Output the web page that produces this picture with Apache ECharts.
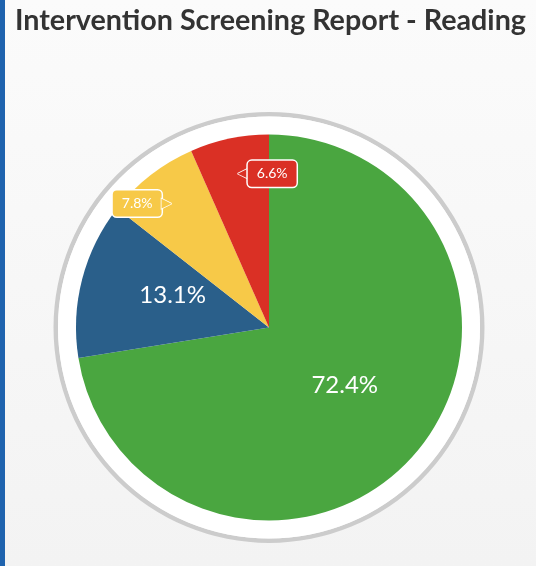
<!DOCTYPE html>
<html><head><meta charset="utf-8">
<script src="https://cdn.jsdelivr.net/npm/echarts@6/dist/echarts.min.js"></script>
<style>
html,body{margin:0;padding:0;overflow:hidden;}
#wrap{position:absolute;left:0;top:0;width:536px;height:566px;background:linear-gradient(#fbfbfb,#f3f3f3);}
#bar{position:absolute;left:0;top:0;width:5px;height:566px;background:#1f63ae;}
#chart{position:absolute;left:0;top:0;width:536px;height:566px;}
</style></head><body>
<div id="wrap"></div><div id="chart"></div><div id="bar"></div>
<script>
const titleText = 'Intervention Screening Report - Reading';
const categories = ['Low Risk', 'Some Risk', 'At Risk', 'High Risk'];
const values = [72.4, 13.1, 7.8, 6.6];
const colors = ['#4aa640', '#2a5f8a', '#f7c948', '#da3025'];
const bigLabelIdx = [0, 1];

const chart = echarts.init(document.getElementById('chart'), null, {renderer: 'canvas'});
const C = [269, 327.5];
const fmtPct = v => Number(v).toFixed(1) + '%';

const mainData = values.map((v, i) => ({
  name: categories[i], value: v,
  itemStyle: {color: colors[i]},
  label: {show: bigLabelIdx.includes(i)}
}));
const overlayData = values.map((v, i) => ({
  name: categories[i], value: v,
  itemStyle: {color: 'rgba(0,0,0,0)'},
  label: bigLabelIdx.includes(i) ? {show: false} : {
    show: true,
    formatter: p => (p.dataIndex === 3 ? '{arrL|◀}{box|' + fmtPct(p.value) + '}' : '{box|' + fmtPct(p.value) + '}{arrR|▶}'),
    rich: {
      box: {backgroundColor: colors[i], borderColor: '#ffffff', borderWidth: 1.5, borderRadius: 4,
            color: '#ffffff', fontSize: 14, fontFamily: 'Lato', lineHeight: 14, padding: [6, 9, 6, 9]},
      arrL: {color: colors[i], fontSize: 13, fontFamily: 'DejaVu Sans', textBorderColor: '#ffffff', textBorderWidth: 1.5},
      arrR: {color: colors[i], fontSize: 13, fontFamily: 'DejaVu Sans', textBorderColor: '#ffffff', textBorderWidth: 1.5}
    }
  }
}));

chart.setOption({
  animation: false,
  backgroundColor: 'transparent',
  title: {
    text: titleText, left: 10, top: 1,
    textStyle: {fontFamily: 'Lato', fontWeight: 'bold', fontSize: 28.7, color: '#333333'}
  },
  series: [
    {
      type: 'pie', silent: true, center: C, radius: [211, 215.5], z: 1,
      label: {show: false}, labelLine: {show: false},
      itemStyle: {color: '#cccccc'}, data: [{value: 1, name: 'ring'}]
    },
    {
      type: 'pie', silent: true, center: C, radius: [0, 211], z: 1,
      label: {show: false}, labelLine: {show: false},
      itemStyle: {color: '#ffffff'}, data: [{value: 1, name: 'disk'}]
    },
    {
      type: 'pie', center: C, radius: [0, 193], startAngle: 90, clockwise: true, z: 2,
      avoidLabelOverlap: false, silent: true,
      itemStyle: {borderWidth: 0},
      label: {position: 'inside', formatter: p => fmtPct(p.value), color: '#ffffff',
              fontSize: 24, fontFamily: 'Lato', fontWeight: 'normal'},
      labelLine: {show: false},
      labelLayout: p => ({dy: -7}),
      data: mainData
    },
    {
      type: 'pie', center: C, radius: [115, 193], startAngle: 90, clockwise: true, z: 3,
      avoidLabelOverlap: false, silent: true,
      label: {position: 'inside'},
      labelLine: {show: false},
      labelLayout: p => {
        if (p.dataIndex === 2) return {dx: -p.labelRect.width / 2};
        if (p.dataIndex === 3) return {dx: p.labelRect.width / 2};
        return {};
      },
      data: overlayData
    }
  ]
});
</script>
</body></html>
